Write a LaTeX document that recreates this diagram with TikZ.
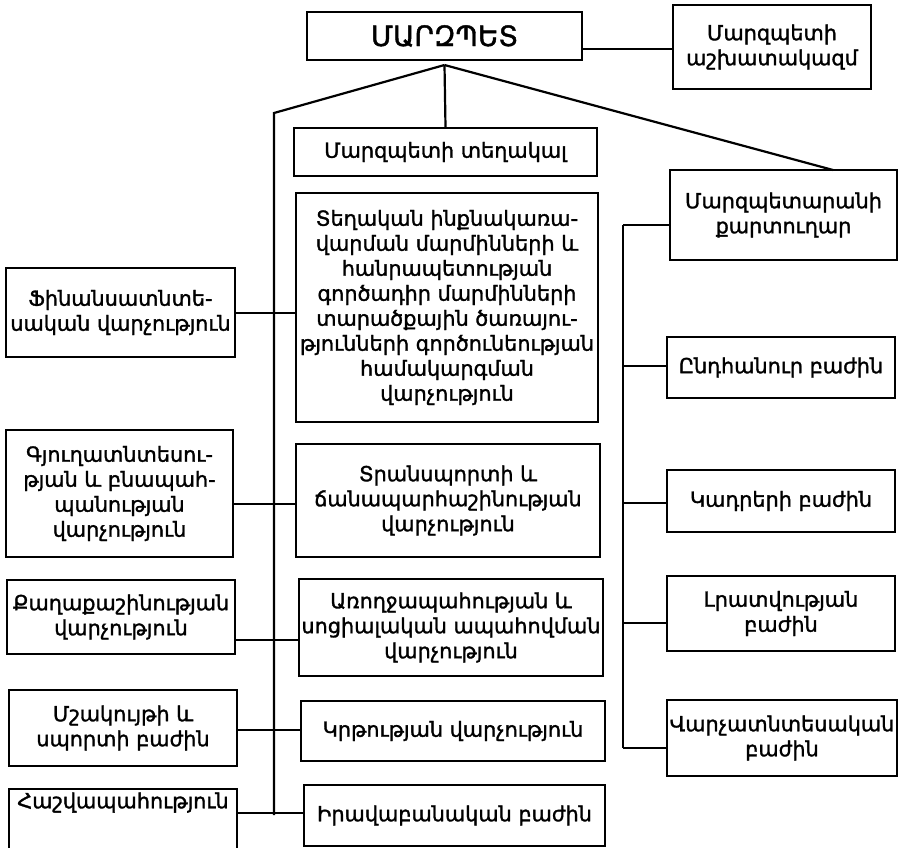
\documentclass[tikz,border=0pt]{standalone}
\usepackage{fontspec}
\setmainfont{DejaVu Sans}[FakeBold=1.5]
\begin{document}
\begin{tikzpicture}[x=1pt,y=-1pt,
  box/.style={draw, line width=2.2pt, align=center, inner sep=0pt,
    font=\fontsize{20.8}{25}\selectfont},
  conn/.style={line width=2.2pt}]
\useasboundingbox (0,0) rectangle (900,847);
\clip (0,0) rectangle (900,847);
% top
\node[box, minimum width=275, minimum height=48, font=\fontsize{28}{30}\selectfont] (top) at (444.5,36) {ՄԱՐԶՊԵՏ};
\node[box, minimum width=198, minimum height=84] (staff) at (772,47) {Մարզպետի\\աշխատակազմ};
% centre column
\node[box, minimum width=303, minimum height=48] (deputy) at (445.5,152) {Մարզպետի տեղակալ};
\node[box, minimum width=302, minimum height=229] (local) at (447,307.5) {Տեղական ինքնակառա-\\վարման մարմինների և\\հանրապետության\\գործադիր մարմինների\\տարածքային ծառայու-\\թյունների գործունեության\\համակարգման\\վարչություն};
\node[box, minimum width=304, minimum height=113] (transp) at (448,500.5) {Տրանսպորտի և\\ճանապարհաշինության\\վարչություն};
\node[box, minimum width=304, minimum height=97] (health) at (451,627.5) {Առողջապահության և\\սոցիալական ապահովման\\վարչություն};
\node[box, minimum width=304, minimum height=60] (educ) at (453,731) {Կրթության վարչություն};
\node[box, minimum width=301, minimum height=61] (legal) at (454.5,815.5) {Իրավաբանական բաժին};
% left column
\node[box, minimum width=229, minimum height=89] (fin) at (120.5,312.5) {Ֆինանսատնտե-\\սական վարչություն};
\node[box, minimum width=227, minimum height=127] (agri) at (119.5,493.5) {Գյուղատնտեսու-\\թյան և բնապահ-\\պանության\\վարչություն};
\node[box, minimum width=228, minimum height=74] (urban) at (121,617) {Քաղաքաշինության\\վարչություն};
\node[box, minimum width=228, minimum height=76] (cult) at (123,728) {Մշակույթի և\\սպորտի բաժին};
\node[box, minimum width=228, minimum height=80, anchor=north] (acct) at (123,788) {Հաշվապահություն\\\strut\\\strut};
% right column
\node[box, minimum width=227, minimum height=90] (secr) at (783.5,215) {Մարզպետարանի\\քարտուղար};
\node[box, minimum width=228, minimum height=61] (gen) at (781,367.5) {Ընդհանուր բաժին};
\node[box, minimum width=228, minimum height=62] (pers) at (781,501) {Կադրերի բաժին};
\node[box, minimum width=228, minimum height=75] (info) at (781,613.5) {Լրատվության\\բաժին};
\node[box, minimum width=230, minimum height=76] (admin) at (782,738) {Վարչատնտեսական\\բաժին};
% helper coordinates
\coordinate (apex) at (444.5,65);
\coordinate (lbend) at (274,113);
\coordinate (lend) at (274,815);
\coordinate (rjoin) at (833,170);
\coordinate (rtop) at (623,225);
\coordinate (rbot) at (623,748);
% connectors
\draw[conn] (top.east |- 0,49) -- (staff.west |- 0,49);
\draw[conn] (apex) -- (deputy.north);
\draw[conn] (apex) -- (rjoin);
\draw[conn] (apex) -- (lbend) -- (lend);
\draw[conn] (fin.east |- 0,313) -- (local.west |- 0,313);
\draw[conn] (agri.east |- 0,504) -- (transp.west |- 0,504);
\draw[conn] (urban.east |- 0,640) -- (health.west |- 0,640);
\draw[conn] (cult.east |- 0,730) -- (educ.west |- 0,730);
\draw[conn] (acct.east |- 0,813) -- (legal.west |- 0,813);
\draw[conn] (rtop) -- (rbot);
\draw[conn] (rtop) -- (secr.west |- rtop);
\draw[conn] (rtop |- 0,366) -- (gen.west |- 0,366);
\draw[conn] (rtop |- 0,503) -- (pers.west |- 0,503);
\draw[conn] (rtop |- 0,623) -- (info.west |- 0,623);
\draw[conn] (rbot) -- (admin.west |- rbot);
\end{tikzpicture}
\end{document}
